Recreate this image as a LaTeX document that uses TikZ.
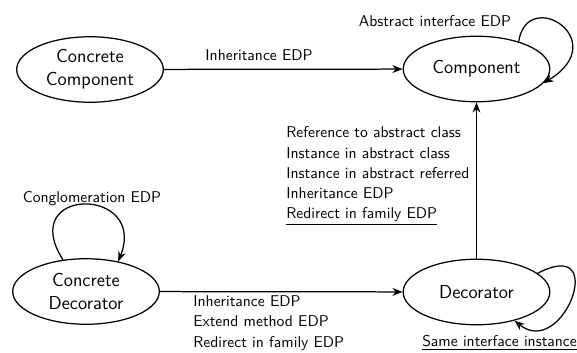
\documentclass[tikz,border=0pt]{standalone}
\usetikzlibrary{arrows.meta,shapes.geometric}
\begin{document}
\begin{tikzpicture}[x=0.641pt,y=-0.641pt,
  state/.style={draw,ellipse,thick,minimum width=94pt,minimum height=42pt,inner sep=0pt,align=center,font=\sffamily\fontsize{12}{15}\selectfont},
  lbl/.style={font=\sffamily\fontsize{10}{13}\selectfont,inner sep=0pt,align=left},
  edge/.style={thick,-{Stealth[length=6.5pt,width=5pt]}}]
\useasboundingbox (0,0) rectangle (577,353);
\node[state] (cc) at (90,69.5) {Concrete\\Component};
\node[state] (comp) at (476.5,69) {Component};
\node[state] (cd) at (86,291.5) {Concrete\\Decorator};
\node[state] (dec) at (476.5,292) {Decorator};

\draw[edge] (cc) -- (comp);
\draw[edge] (dec) -- (comp);
\draw[edge] (cd) -- (dec);
\draw[edge] (comp.33) .. controls (527,-14) and (614,40) .. (comp.-12);
\draw[edge] (cd.126) .. controls (16,186) and (148,186) .. (cd.43);
\draw[edge] (dec.17) .. controls (610,235) and (563,360) .. (dec.-37);

\node[lbl] (l1) at (259,55) {Inheritance EDP};
\node[lbl,anchor=west] (l2) at (286,176) {Reference to abstract class\\Instance in abstract class\\Instance in abstract referred\\Inheritance EDP\\\underline{Redirect in family EDP}};
\node[lbl,anchor=west] (l3) at (193,323) {Inheritance EDP\\Extend method EDP\\Redirect in family EDP};
\node[lbl] (l4) at (435,21) {Abstract interface EDP};
\node[lbl] (l5) at (92,199) {Conglomeration EDP};
\node[lbl,anchor=west] (l6) at (422,343) {\underline{Same interface instance}};
\end{tikzpicture}
\end{document}
